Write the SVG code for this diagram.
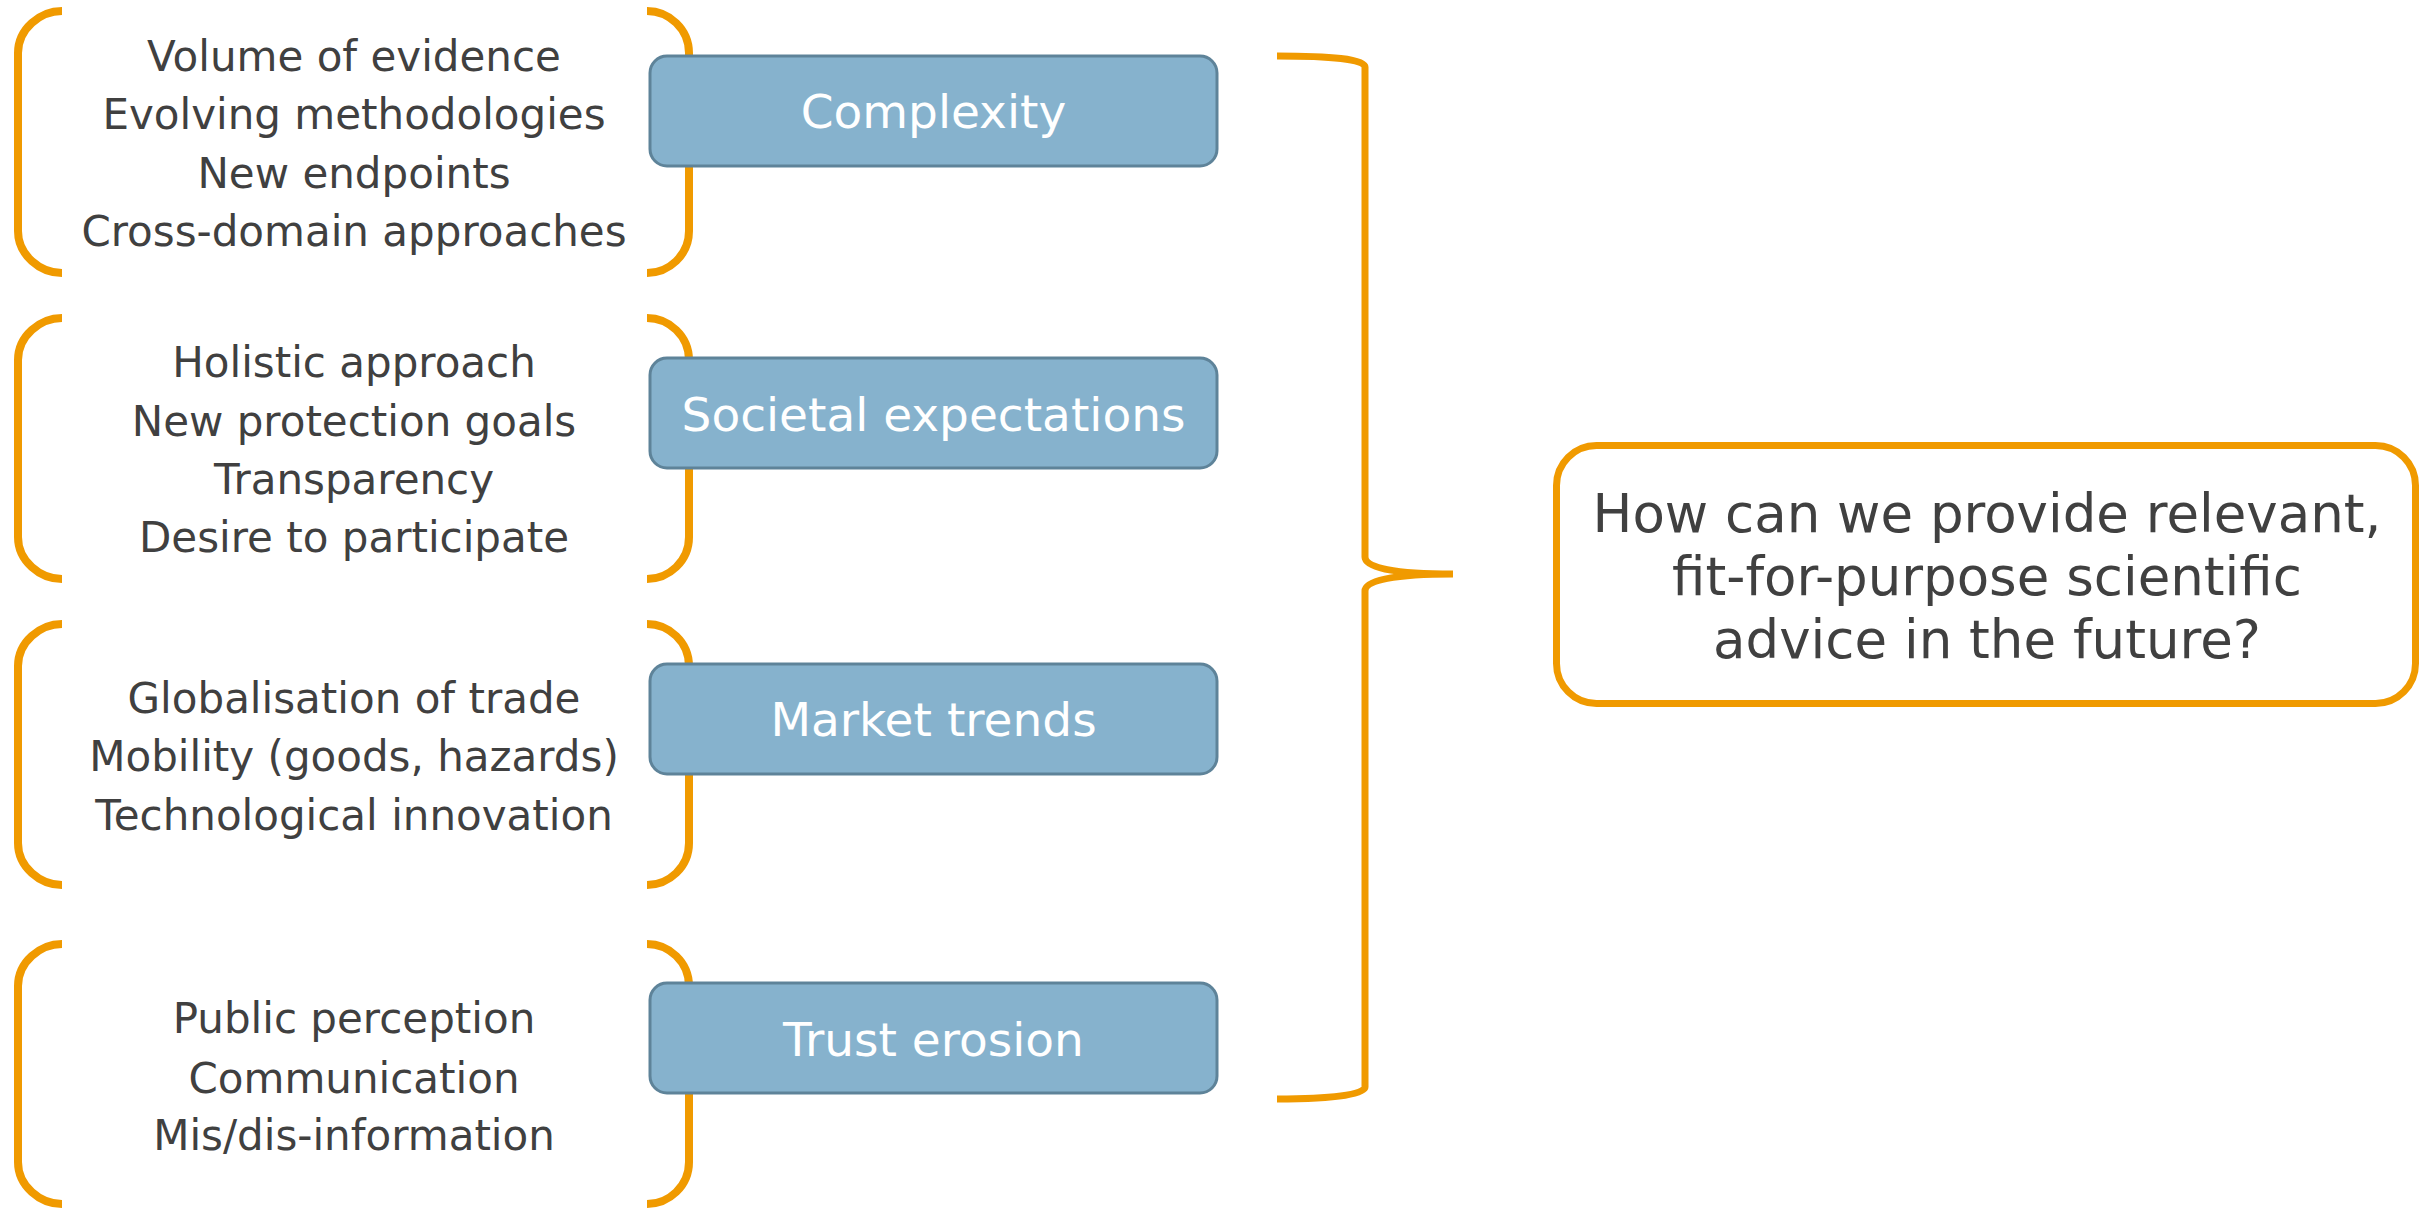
<svg xmlns="http://www.w3.org/2000/svg" width="2433" height="1208" viewBox="0 0 2433 1208">
<style>
.br{fill:none;stroke:#F09A00;stroke-width:8;stroke-linecap:butt}
.brace{fill:none;stroke:#F09A00;stroke-width:7}
.box{fill:#86B2CD;stroke:#5E8399;stroke-width:3}
.q{fill:#FFFFFF;stroke:#F09A00;stroke-width:7}
.lt{font-family:"DejaVu Sans",Verdana,sans-serif;font-size:42px;fill:#404040;text-anchor:middle}
.bt{font-family:"DejaVu Sans",Verdana,sans-serif;font-size:47px;fill:#FFFFFF;text-anchor:middle}
.qt{font-family:"DejaVu Sans",Verdana,sans-serif;font-size:53px;fill:#404040;text-anchor:middle}
</style>
<rect width="2433" height="1208" fill="#FFFFFF"/>
<g id="group-complexity">
<path class="br" d="M62,11 C40,11 18,29 18,53 V231 C18,255 40,273 62,273"/>
<path class="br" d="M647,11 C669,11 689,29 689,53 V231 C689,255 669,273 647,273"/>
<text class="lt" x="354" y="71">Volume of evidence</text>
<text class="lt" x="354" y="129">Evolving methodologies</text>
<text class="lt" x="354" y="188">New endpoints</text>
<text class="lt" x="354" y="246">Cross-domain approaches</text>
</g>
<g id="group-societal">
<path class="br" d="M62,318 C40,318 18,336 18,360 V537 C18,561 40,579 62,579"/>
<path class="br" d="M647,318 C669,318 689,336 689,360 V537 C689,561 669,579 647,579"/>
<text class="lt" x="354" y="377">Holistic approach</text>
<text class="lt" x="354" y="436">New protection goals</text>
<text class="lt" x="354" y="494">Transparency</text>
<text class="lt" x="354" y="552">Desire to participate</text>
</g>
<g id="group-market">
<path class="br" d="M62,624 C40,624 18,642 18,666 V843 C18,867 40,885 62,885"/>
<path class="br" d="M647,624 C669,624 689,642 689,666 V843 C689,867 669,885 647,885"/>
<text class="lt" x="354" y="713">Globalisation of trade</text>
<text class="lt" x="354" y="771">Mobility (goods, hazards)</text>
<text class="lt" x="354" y="830">Technological innovation</text>
</g>
<g id="group-trust">
<path class="br" d="M62,944 C40,944 18,962 18,986 V1162 C18,1186 40,1204 62,1204"/>
<path class="br" d="M647,944 C669,944 689,962 689,986 V1162 C689,1186 669,1204 647,1204"/>
<text class="lt" x="354" y="1033">Public perception</text>
<text class="lt" x="354" y="1093">Communication</text>
<text class="lt" x="354" y="1150">Mis/dis-information</text>
</g>
<g id="node-complexity">
<rect class="box" x="650" y="56" width="567" height="110" rx="17"/>
<text class="bt" x="933.5" y="128">Complexity</text>
</g>
<g id="node-societal">
<rect class="box" x="650" y="358" width="567" height="110" rx="17"/>
<text class="bt" x="933.5" y="431">Societal expectations</text>
</g>
<g id="node-market">
<rect class="box" x="650" y="664" width="567" height="110" rx="17"/>
<text class="bt" x="933.5" y="736">Market trends</text>
</g>
<g id="node-trust">
<rect class="box" x="650" y="983" width="567" height="110" rx="17"/>
<text class="bt" x="933.5" y="1056">Trust erosion</text>
</g>
<g id="connectors">
<path class="brace" d="M1277,56 C1330,56 1365,59 1365,67 V557 C1365,568 1395,574 1453,574 C1395,574 1365,580 1365,591 V1087 C1365,1095 1330,1099 1277,1099"/>
</g>
<g id="node-question">
<rect class="q" x="1556.5" y="445.5" width="859" height="258" rx="40"/>
<text class="qt" x="1987" y="532">How can we provide relevant,</text>
<text class="qt" x="1987" y="595">fit-for-purpose scientific</text>
<text class="qt" x="1987" y="658">advice in the future?</text>
</g>
</svg>
